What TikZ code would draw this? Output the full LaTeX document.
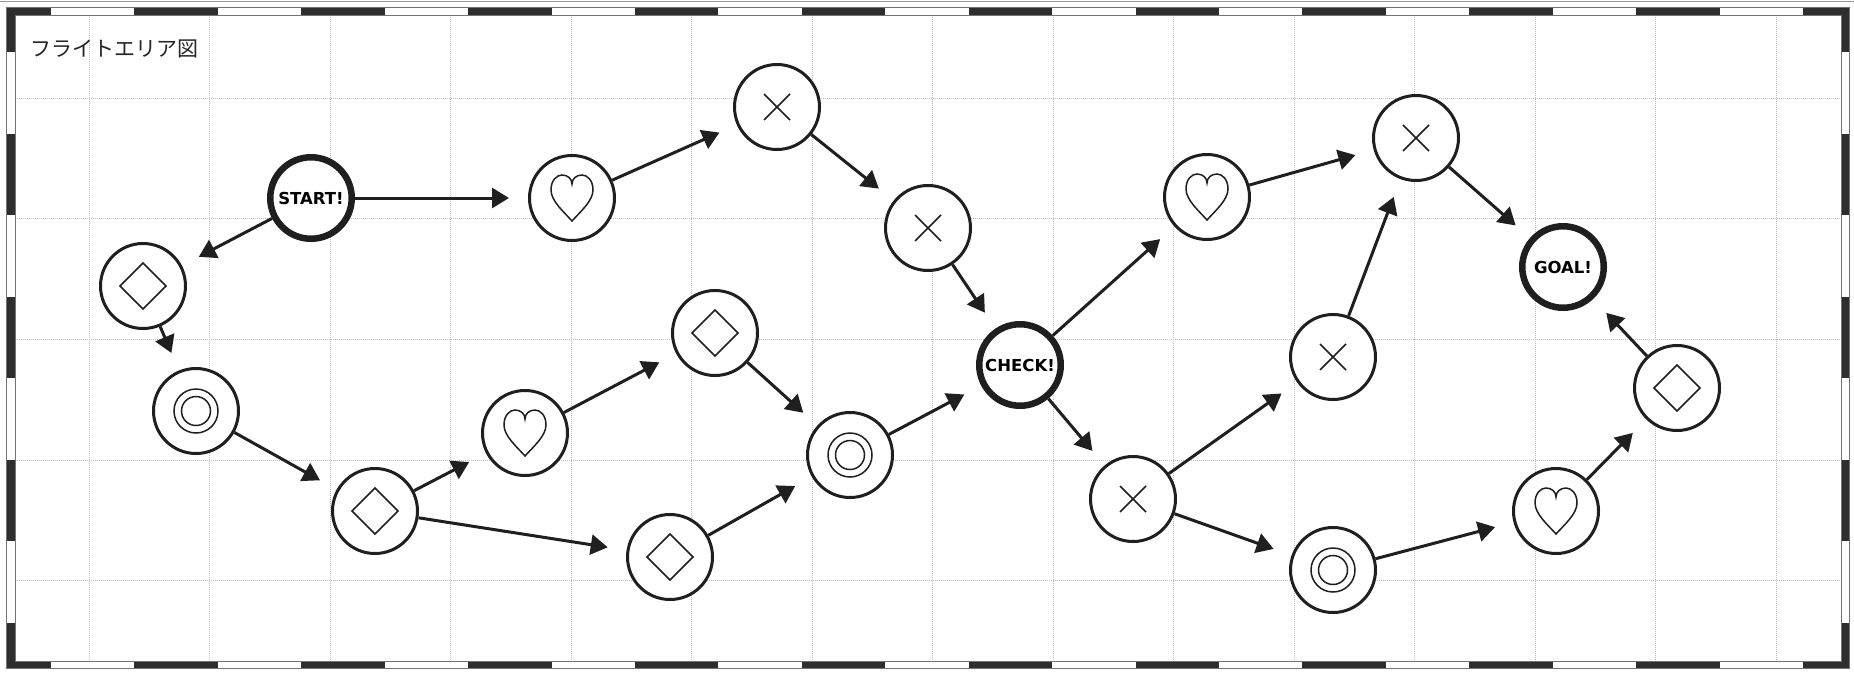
\documentclass[tikz,border=0pt]{standalone}
\usepackage{fontspec}
\usetikzlibrary{arrows.meta}
\newfontfamily\jpfont{Noto Sans CJK JP}
\newfontfamily\labfont{DejaVu Sans}
\tikzset{
  nd/.style={circle, draw=black!88, line width=3pt, fill=white, minimum size=85pt, inner sep=0pt},
  bignd/.style={nd, line width=6.5pt, minimum size=81.5pt, font=\labfont\bfseries\fontsize{16.5}{16.5}\selectfont},
  arr/.style={-{Triangle[length=17pt,width=20pt]}, line width=3pt, draw=black!88, shorten >=19pt},
  symline/.style={line width=1.5pt, draw=black!88},
  gridl/.style={draw=black!25, line width=0.8pt, dash pattern=on 1pt off 1pt},
  barc/.style={fill=black!82},
  heart/.pic={\draw[symline] (0,23) .. controls (-8,14) and (-21,3) .. (-21,-8) .. controls (-21,-18) and (-15,-23) .. (-10,-23) .. controls (-4,-23) and (0,-19) .. (0,-14) .. controls (0,-19) and (4,-23) .. (10,-23) .. controls (15,-23) and (21,-18) .. (21,-8) .. controls (21,3) and (8,14) .. (0,23) -- cycle;},
  xcross/.pic={\draw[symline] (-13,-13) -- (13,13) (-13,13) -- (13,-13);},
  diam/.pic={\draw[symline] (0,-23) -- (23,0) -- (0,23) -- (-23,0) -- cycle;},
  dring/.pic={\draw[symline] (0,0) circle[radius=22] (0,0) circle[radius=14.5];}
}
\begin{document}
\begin{tikzpicture}[x=1pt,y=-1pt]
\useasboundingbox (0,0) rectangle (1854,673);
\fill[white] (0,0) rectangle (1854,673);
\draw[black!40, line width=1pt] (0,1) -- (1854,1);
% grid
\foreach \i in {0,...,14} \draw[gridl] ({89+120.5*\i},15) -- ({89+120.5*\i},661);
\foreach \j in {0,...,4} \draw[gridl] (15,{98+120.7*\j}) -- (1841,{98+120.7*\j});
% frame
\fill[barc] (6,7) rectangle (51,15);
\fill[barc] (1803,7) rectangle (1849,15);
\fill[barc] (6,661) rectangle (51,668);
\fill[barc] (1803,661) rectangle (1849,668);
\foreach \i in {2,4,...,20} {
  \fill[barc] ({51+(\i-1)*83.43},7) rectangle ({51+\i*83.43},15);
  \fill[barc] ({51+(\i-1)*83.43},661) rectangle ({51+\i*83.43},668);
}
\fill[barc] (6,7) rectangle (15,52);
\fill[barc] (6,623) rectangle (15,668);
\fill[barc] (1841,7) rectangle (1849,52);
\fill[barc] (1841,623) rectangle (1849,668);
\foreach \j in {2,4,6} {
  \fill[barc] (6,{52+(\j-1)*81.57}) rectangle (15,{52+\j*81.57});
  \fill[barc] (1841,{52+(\j-1)*81.57}) rectangle (1849,{52+\j*81.57});
}
\draw[black!55, line width=0.7pt] (6,7) rectangle (1849,668);
\draw[black!55, line width=0.7pt] (15,15) rectangle (1841,661);
% title
\node[anchor=west, inner sep=0pt, font=\jpfont\fontsize{21}{21}\selectfont, text=black!85] (title) at (30,49) {フライトエリア図};
% nodes
\node[bignd] (start) at (311,198) {START!};
\node[nd] (dA) at (143,286) {};
\node[nd] (o1) at (196,411) {};
\node[nd] (dB) at (375,511) {};
\node[nd] (h1) at (525,433) {};
\node[nd] (dC) at (715,333) {};
\node[nd] (dD) at (670,557) {};
\node[nd] (o2) at (850,455) {};
\node[nd] (h2) at (572,198) {};
\node[nd] (x1) at (777,107) {};
\node[nd] (x2) at (928,228) {};
\node[bignd] (check) at (1020,365) {CHECK!};
\node[nd] (h3) at (1207,197) {};
\node[nd] (x3) at (1416,138) {};
\node[nd] (x4) at (1333,357) {};
\node[nd] (x5) at (1133,499) {};
\node[nd] (o3) at (1333,570) {};
\node[nd] (h4) at (1556,511) {};
\node[nd] (dE) at (1677,388) {};
\node[bignd] (goal) at (1563,267) {GOAL!};
% symbols
\pic at (dA) {diam};
\pic at (dB) {diam};
\pic at (dC) {diam};
\pic at (dD) {diam};
\pic at (dE) {diam};
\pic at (o1) {dring};
\pic at (o2) {dring};
\pic at (o3) {dring};
\pic at (h1) {heart};
\pic at (h2) {heart};
\pic at (h3) {heart};
\pic at (h4) {heart};
\pic at (x1) {xcross};
\pic at (x2) {xcross};
\pic at (x3) {xcross};
\pic at (x4) {xcross};
\pic at (x5) {xcross};
% connectors
\draw[arr] (start) -- (dA);
\draw[arr] (start) -- (h2);
\draw[arr] (dA) -- (o1);
\draw[arr] (o1) -- (dB);
\draw[arr] (dB) -- (h1);
\draw[arr] (dB) -- (dD);
\draw[arr] (h1) -- (dC);
\draw[arr] (dC) -- (o2);
\draw[arr] (dD) -- (o2);
\draw[arr] (o2) -- (check);
\draw[arr] (h2) -- (x1);
\draw[arr] (x1) -- (x2);
\draw[arr] (x2) -- (check);
\draw[arr] (check) -- (h3);
\draw[arr] (check) -- (x5);
\draw[arr] (h3) -- (x3);
\draw[arr] (x3) -- (goal);
\draw[arr] (x5) -- (x4);
\draw[arr] (x4) -- (x3);
\draw[arr] (x5) -- (o3);
\draw[arr] (o3) -- (h4);
\draw[arr] (h4) -- (dE);
\draw[arr] (dE) -- (goal);
\end{tikzpicture}
\end{document}
